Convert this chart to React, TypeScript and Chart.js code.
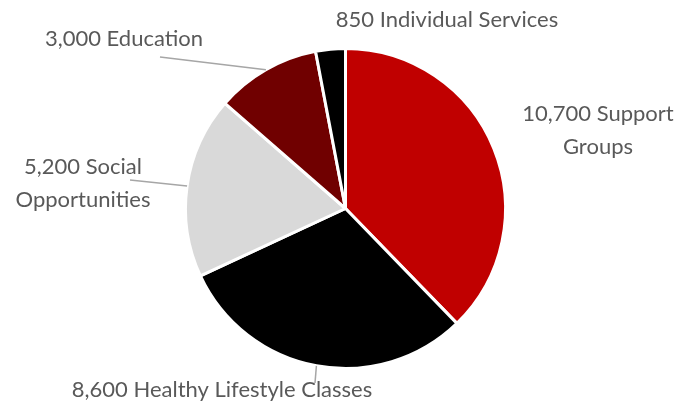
import React, { useEffect, useRef } from "react";
import { Chart, registerables } from "chart.js";

Chart.register(...registerables);

const categories = ["Support Groups", "Healthy Lifestyle Classes", "Social Opportunities", "Education", "Individual Services"];
const values = [10700, 8600, 5200, 3000, 850];
const colors = ["#C00000", "#000000", "#D9D9D9", "#700000", "#000000"];

// label layout: text lines, center x, first baseline y, optional leader anchor
const labelLayout = [
  { lines: ["10,700 Support", "Groups"], x: 598, y: 121, leader: null as null | [number, number] },
  { lines: ["8,600 Healthy Lifestyle Classes"], x: 222, y: 397, leader: [315, 383] as [number, number] },
  { lines: ["5,200 Social", "Opportunities"], x: 83, y: 174, leader: [130, 180] as [number, number] },
  { lines: ["3,000 Education"], x: 124, y: 46, leader: [160, 57] as [number, number] },
  { lines: ["850 Individual Services"], x: 447, y: 27, leader: null as null | [number, number] },
];

const fmt = (v: number) => v.toLocaleString("en-US");

const labelPlugin = {
  id: "outLabels",
  afterDraw(chart: any) {
    const ctx = chart.ctx as CanvasRenderingContext2D;
    const meta = chart.getDatasetMeta(0);
    ctx.save();
    meta.data.forEach((arc: any, i: number) => {
      const lay = labelLayout[i];
      if (!lay) return;
      const { x, y, startAngle, endAngle, outerRadius } = arc.getProps(["x", "y", "startAngle", "endAngle", "outerRadius"], true);
      const mid = (startAngle + endAngle) / 2;
      if (lay.leader) {
        const ex = x + Math.cos(mid) * outerRadius;
        const ey = y + Math.sin(mid) * outerRadius;
        ctx.strokeStyle = "#A6A6A6";
        ctx.lineWidth = 1.5;
        ctx.beginPath();
        ctx.moveTo(lay.leader[0], lay.leader[1]);
        ctx.lineTo(ex, ey);
        ctx.stroke();
      }
      ctx.fillStyle = "#595959";
      ctx.font = "22px Lato";
      ctx.textAlign = "center";
      ctx.textBaseline = "alphabetic";
      const lines = [...lay.lines];
      lines[0] = lines[0].replace(/^[\d,]+/, fmt(values[i]));
      lines.forEach((t, k) => ctx.fillText(t, lay.x, lay.y + k * 33));
    });
    ctx.restore();
  },
};

export default function App() {
  const ref = useRef<HTMLCanvasElement>(null);
  useEffect(() => {
    document.body.style.margin = "0";
    const chart = new Chart(ref.current!, {
      type: "pie",
      data: {
        labels: categories,
        datasets: [{ data: values, backgroundColor: colors, borderColor: "#FFFFFF", borderWidth: 3 }],
      },
      options: {
        responsive: false,
        animation: false,
        layout: { padding: { top: 47, bottom: 38, left: 184, right: 181 } },
        plugins: { legend: { display: false }, tooltip: { enabled: false } },
      },
      plugins: [labelPlugin],
    });
    return () => chart.destroy();
  }, []);
  return (
    <div style={{ width: 688, height: 408, background: "#fff" }}>
      <canvas ref={ref} width={688} height={408} />
    </div>
  );
}
